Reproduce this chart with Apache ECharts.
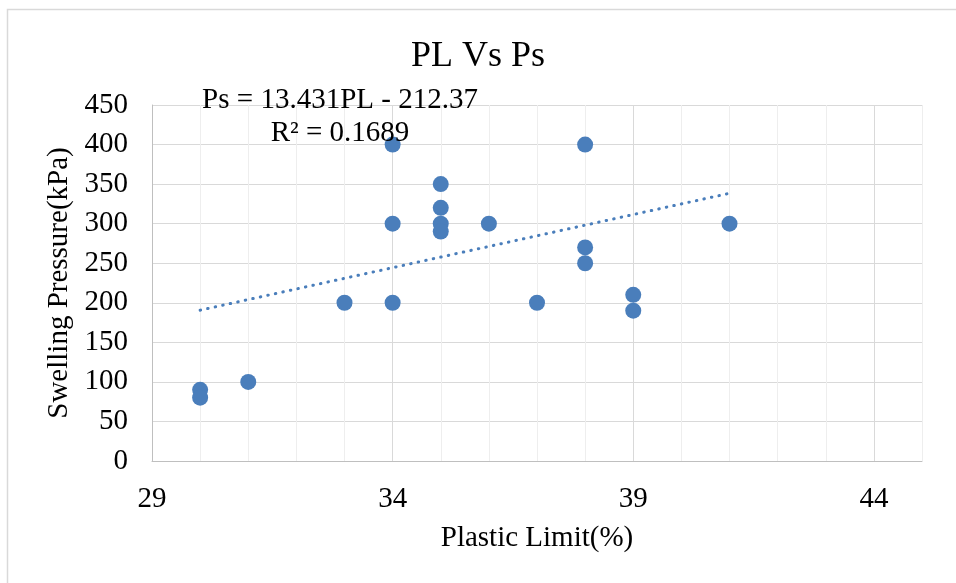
<!DOCTYPE html>
<html>
<head>
<meta charset="utf-8">
<script src="https://cdn.jsdelivr.net/npm/echarts@6/dist/echarts.min.js"></script>
<style>
  html, body { margin: 0; padding: 0; background: #fff; }
  #chart { width: 956px; height: 583px; }
</style>
</head>
<body>
<div id="chart"></div>
<script>
  // plastic limit (%) vs swelling pressure (kPa)
  var plasticLimit = [30, 30, 31, 33, 34, 34, 34, 35, 35, 35, 35, 36, 37, 38, 38, 38, 39, 39, 41];
  var swellPressure = [90, 80, 100, 200, 400, 300, 200, 350, 320, 300, 290, 300, 200, 400, 270, 250, 210, 190, 300];
  // linear trendline ends, as drawn
  var trendX = [30, 41];
  var trendY = [190.6, 338.4];
  var eqText = ['Ps = 13.431PL - 212.37', 'R\u00b2 = 0.1689'];

  var serif = '"Liberation Serif", "DejaVu Serif", serif';
  var blue = '#4a7ebb';

  var points = plasticLimit.map(function (x, i) { return [x, swellPressure[i]]; });
  var trend = trendX.map(function (x, i) { return [x, trendY[i]]; });

  var chart = echarts.init(document.getElementById('chart'));
  chart.setOption({
    animation: false,
    backgroundColor: '#fff',
    title: {
      text: 'PL Vs Ps',
      left: 'center',
      top: 34,
      textStyle: { fontFamily: serif, fontSize: 36, fontWeight: 'normal', color: '#000' }
    },
    grid: { left: 152, top: 105, right: 34, bottom: 122 },
    xAxis: {
      type: 'value',
      min: 29,
      max: 45,
      interval: 1,
      name: 'Plastic Limit(%)',
      nameLocation: 'middle',
      nameGap: 63,
      nameTextStyle: { fontFamily: serif, fontSize: 29, color: '#000' },
      axisLine: { show: true, lineStyle: { color: '#bfbfbf', width: 1 } },
      axisTick: { show: false },
      axisLabel: {
        margin: 24,
        fontFamily: serif,
        fontSize: 29,
        color: '#000',
        formatter: function (v) { return (v - 29) % 5 === 0 ? String(v) : ''; }
      },
      splitLine: {
        show: true,
        lineStyle: { color: ['#d9d9d9', '#eeeeee', '#eeeeee', '#eeeeee', '#eeeeee'], width: 1 }
      }
    },
    yAxis: {
      type: 'value',
      min: 0,
      max: 450,
      interval: 50,
      name: 'Swelling Pressure(kPa)',
      nameLocation: 'middle',
      nameGap: 73,
      nameTextStyle: { fontFamily: serif, fontSize: 29, color: '#000' },
      axisLine: { show: true, lineStyle: { color: '#bfbfbf', width: 1 } },
      axisTick: { show: false },
      axisLabel: { margin: 24, fontFamily: serif, fontSize: 29, color: '#000' },
      splitLine: { show: true, lineStyle: { color: '#d9d9d9', width: 1 } }
    },
    series: [
      {
        type: 'line',
        data: trend,
        symbol: 'none',
        silent: true,
        lineStyle: { color: blue, width: 3, type: [0.5, 7.2], cap: 'round' },
        z: 1
      },
      {
        type: 'scatter',
        data: points,
        symbol: 'circle',
        symbolSize: 16,
        itemStyle: { color: blue, opacity: 1 },
        z: 3
      }
    ],
    graphic: [
      {
        type: 'rect',
        shape: { x: 7.5, y: 9.5, width: 960, height: 600 },
        style: { fill: 'none', stroke: '#d9d9d9', lineWidth: 1.5 },
        silent: true
      },
      {
        type: 'text',
        x: 340, y: 100,
        style: {
          text: eqText[0], fontFamily: serif, fontSize: 29, fill: '#000',
          textAlign: 'center', textVerticalAlign: 'middle'
        },
        z: 10
      },
      {
        type: 'text',
        x: 340, y: 133,
        style: {
          text: eqText[1], fontFamily: serif, fontSize: 29, fill: '#000',
          textAlign: 'center', textVerticalAlign: 'middle'
        },
        z: 10
      }
    ]
  });
</script>
</body>
</html>
